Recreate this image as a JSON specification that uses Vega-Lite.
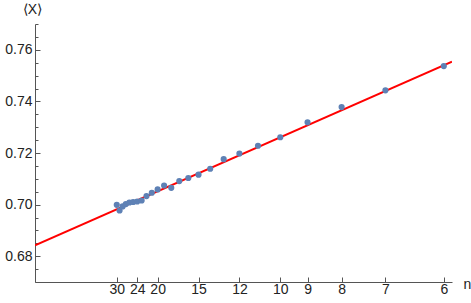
{
  "$schema": "https://vega.github.io/schema/vega-lite/v6.json",
  "width": 417,
  "height": 258,
  "autosize": {"type": "none"},
  "padding": {"left": 35, "top": 24, "right": 19, "bottom": 21},
  "background": "white",
  "config": {
    "view": {"stroke": null},
    "axis": {
      "grid": false,
      "labelFont": "Liberation Sans",
      "labelFontSize": 14,
      "labelColor": "#222",
      "titleFont": "Liberation Sans",
      "titleFontSize": 14,
      "titleFontWeight": "normal",
      "titleColor": "#222",
      "domainColor": "#555",
      "tickColor": "#555",
      "domainWidth": 1,
      "tickWidth": 1
    }
  },
  "datasets": {
    "points": [
      {"n": 30, "inv_n": 0.033333, "X": 0.6999},
      {"n": 29, "inv_n": 0.034483, "X": 0.6977},
      {"n": 28, "inv_n": 0.035714, "X": 0.6993},
      {"n": 27, "inv_n": 0.037037, "X": 0.7002},
      {"n": 26, "inv_n": 0.038462, "X": 0.7008},
      {"n": 25, "inv_n": 0.04, "X": 0.7010},
      {"n": 24, "inv_n": 0.041667, "X": 0.7012},
      {"n": 23, "inv_n": 0.043478, "X": 0.7016},
      {"n": 22, "inv_n": 0.045455, "X": 0.7033},
      {"n": 21, "inv_n": 0.047619, "X": 0.7046},
      {"n": 20, "inv_n": 0.05, "X": 0.7059},
      {"n": 19, "inv_n": 0.052632, "X": 0.7074},
      {"n": 18, "inv_n": 0.055556, "X": 0.7065},
      {"n": 17, "inv_n": 0.058824, "X": 0.7091},
      {"n": 16, "inv_n": 0.0625, "X": 0.7103},
      {"n": 15, "inv_n": 0.066667, "X": 0.7116},
      {"n": 14, "inv_n": 0.071429, "X": 0.7139},
      {"n": 13, "inv_n": 0.076923, "X": 0.7176},
      {"n": 12, "inv_n": 0.083333, "X": 0.7198},
      {"n": 11, "inv_n": 0.090909, "X": 0.7228},
      {"n": 10, "inv_n": 0.1, "X": 0.7261},
      {"n": 9, "inv_n": 0.111111, "X": 0.7319},
      {"n": 8, "inv_n": 0.125, "X": 0.7378},
      {"n": 7, "inv_n": 0.142857, "X": 0.7443},
      {"n": 6, "inv_n": 0.166667, "X": 0.7537}
    ],
    "fit": [
      {"inv_n": 0.0, "X": 0.6842},
      {"inv_n": 0.17, "X": 0.7554}
    ]
  },
  "resolve": {"axis": {"y": "independent"}},
  "layer": [
    {
      "data": {"name": "fit"},
      "mark": {"type": "line", "color": "#FF0000", "strokeWidth": 2, "clip": true},
      "encoding": {
        "x": {
          "field": "inv_n", "type": "quantitative",
          "scale": {"domain": [0, 0.17], "nice": false, "zero": false},
          "axis": {
            "title": "n",
            "values": [0.033333, 0.041667, 0.05, 0.066667, 0.083333, 0.1, 0.111111, 0.125, 0.142857, 0.166667],
            "labelExpr": "format(1/datum.value, '.0f')",
            "tickSize": -5,
            "labelPadding": 5,
            "labelFlush": false,
            "labelOverlap": false,
            "titleAnchor": "start",
            "titleAlign": "left",
            "titleBaseline": "middle",
            "titleX": 428,
            "titleY": 2
          }
        },
        "y": {
          "field": "X", "type": "quantitative",
          "scale": {"domain": [0.67, 0.77], "nice": false, "zero": false},
          "axis": {
            "orient": "left",
            "title": "⟨X⟩",
            "values": [0.68, 0.70, 0.72, 0.74, 0.76],
            "format": ".2f",
            "tickSize": -5,
            "labelPadding": 8,
            "labelFlush": false,
            "labelOverlap": false,
            "titleAngle": 0,
            "titleAlign": "center",
            "titleBaseline": "middle",
            "titleX": -3,
            "titleY": -15
          }
        }
      }
    },
    {
      "data": {"name": "points"},
      "mark": {"type": "point", "filled": true, "size": 38, "color": "#5E81B5", "opacity": 1},
      "encoding": {
        "x": {"field": "inv_n", "type": "quantitative"},
        "y": {
          "field": "X", "type": "quantitative",
          "axis": {
            "orient": "left",
            "title": null,
            "values": [0.67, 0.675, 0.685, 0.69, 0.695, 0.705, 0.71, 0.715, 0.725, 0.73, 0.735, 0.745, 0.75, 0.755, 0.765, 0.77],
            "labels": false,
            "domain": false,
            "tickSize": -3
          }
        }
      }
    }
  ]
}
